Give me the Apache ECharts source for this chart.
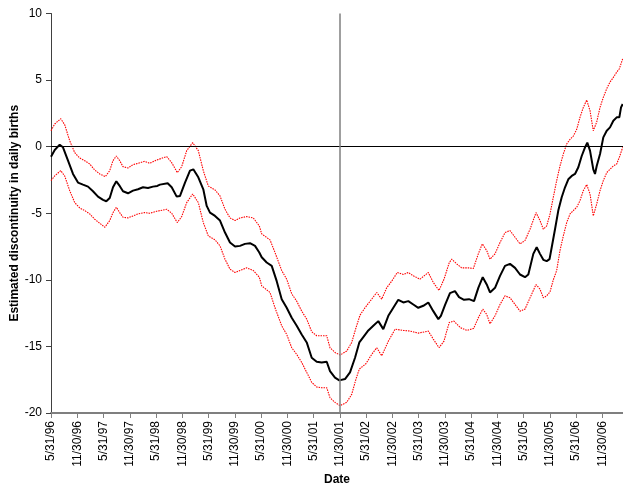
<!DOCTYPE html>
<html>
<head>
<meta charset="utf-8">
<script src="https://cdn.jsdelivr.net/npm/echarts@6/dist/echarts.min.js"></script>
<style>
  html, body { margin: 0; padding: 0; background: #fff; }
  #chart { width: 623px; height: 484px; }
</style>
</head>
<body>
<div id="chart"></div>
<script>
// x = months elapsed since 5/31/96, y = estimated discontinuity
const tickLabels = ['5/31/96','11/30/96','5/31/97','11/30/97','5/31/98','11/30/98','5/31/99','11/30/99',
  '5/31/00','11/30/00','5/31/01','11/30/01','5/31/02','11/30/02','5/31/03','11/30/03','5/31/04','11/30/04',
  '5/31/05','11/30/05','5/31/06','11/30/06'];

const estimate = [
  [0,-0.75],[0.85,-0.25],[1.99,0.15],[2.74,-0.05],[3.89,-1.05],[5.03,-2.05],[6.17,-2.7],[7.31,-2.85],
  [8.46,-3.0],[9.6,-3.35],[10.74,-3.75],[11.89,-4.0],[12.64,-4.1],[13.42,-3.85],[14.17,-3.05],[14.93,-2.6],
  [15.7,-2.95],[16.46,-3.35],[17.6,-3.5],[18.74,-3.3],[19.89,-3.2],[21.03,-3.05],[22.17,-3.1],[23.31,-3.0],
  [24.3,-2.95],[24.91,-2.85],[26.67,-2.75],[27.59,-3.05],[28.73,-3.75],[29.49,-3.7],[30.63,-2.7],[31.77,-1.8],
  [32.53,-1.7],[33.67,-2.3],[34.81,-3.2],[35.59,-4.45],[36.34,-4.95],[37.49,-5.2],[38.63,-5.55],[39.77,-6.45],
  [40.91,-7.2],[42.06,-7.5],[43.2,-7.45],[44.34,-7.3],[45.49,-7.25],[46.63,-7.45],[47.61,-7.95],[48.16,-8.3],
  [49.3,-8.7],[50.45,-8.95],[51.59,-10.1],[52.73,-11.45],[53.87,-12.1],[55.02,-12.85],[56.16,-13.45],[57.3,-14.1],
  [58.45,-14.7],[59.59,-15.85],[60.73,-16.15],[61.87,-16.2],[63.02,-16.15],[63.77,-16.85],[64.91,-17.35],[65.9,-17.55],
  [67.2,-17.45],[68.34,-16.95],[69.49,-15.85],[70.47,-14.7],[71.38,-14.3],[72.53,-13.8],[73.67,-13.45],[74.81,-13.1],
  [75.95,-13.7],[77.1,-12.7],[78.24,-12.1],[79.38,-11.5],[80.53,-11.7],[81.67,-11.6],[82.81,-11.85],[83.95,-12.1],
  [85.1,-11.95],[86.24,-11.7],[87.38,-12.35],[88.53,-12.95],[89.12,-12.7],[90.05,-11.9],[91.19,-11.0],[92.33,-10.85],
  [93.26,-11.3],[94.4,-11.5],[95.54,-11.45],[96.69,-11.6],[97.67,-10.6],[98.68,-9.8],[99.59,-10.35],[100.34,-10.95],
  [101.49,-10.6],[102.63,-9.7],[103.77,-8.95],[104.91,-8.8],[106.06,-9.1],[107.2,-9.6],[108.34,-9.8],[109.1,-9.6],
  [110.24,-8.05],[111.01,-7.55],[111.77,-8.05],[112.53,-8.5],[113.3,-8.6],[113.95,-8.45],[114.45,-7.55],[115.2,-6.2],
  [115.95,-4.8],[116.73,-3.8],[117.49,-3.05],[118.24,-2.45],[119.02,-2.2],[119.77,-2.05],[120.53,-1.55],[121.3,-0.7],
  [122.06,-0.05],[122.58,0.3],[123.2,-0.3],[123.95,-1.7],[124.34,-2.05],[124.73,-1.45],[125.49,-0.55],[126.24,0.7],
  [127.02,1.2],[127.77,1.45],[128.53,1.95],[129.3,2.2],[129.9,2.2],[130.29,2.95],[130.67,3.2]
];

const upperBound = [
  [0,1.2],[0.85,1.7],[2.22,2.1],[3.13,1.65],[4.27,0.45],[5.42,-0.45],[6.56,-0.85],[7.7,-1.05],
  [8.85,-1.3],[9.99,-1.75],[11.13,-2.05],[12.41,-2.25],[13.42,-1.8],[14.17,-1.05],[14.93,-0.7],[15.7,-1.05],
  [16.46,-1.5],[17.6,-1.6],[18.74,-1.35],[19.89,-1.25],[21.42,-1.1],[22.56,-1.25],[24.16,-1.0],[26.45,-0.75],
  [27.59,-1.2],[28.87,-1.95],[29.87,-1.5],[31.02,-0.3],[32.39,0.3],[33.67,-0.3],[34.81,-1.8],[35.95,-2.95],
  [37.49,-3.25],[38.63,-3.7],[39.77,-4.7],[40.91,-5.35],[42.06,-5.55],[43.2,-5.35],[44.73,-5.25],[46.24,-5.35],
  [47.61,-5.95],[48.16,-6.55],[50.06,-7.0],[51.2,-7.95],[52.73,-9.3],[53.87,-9.95],[55.02,-11.05],[56.16,-11.6],
  [57.3,-12.35],[58.45,-12.95],[59.59,-13.9],[60.73,-14.2],[61.87,-14.2],[63.02,-14.2],[63.77,-15.1],[64.91,-15.45],
  [66.06,-15.65],[67.59,-15.35],[68.73,-14.7],[69.71,-13.6],[70.63,-12.65],[71.77,-12.1],[73.3,-11.45],[74.45,-10.95],
  [75.59,-11.45],[76.73,-10.6],[77.87,-10.1],[79.15,-9.45],[80.53,-9.6],[81.67,-9.45],[82.81,-9.7],[84.34,-9.95],
  [86.24,-9.45],[87.38,-10.2],[88.69,-10.8],[89.83,-9.95],[91.04,-8.7],[91.59,-8.45],[92.73,-8.8],[93.87,-9.1],
  [95.38,-9.1],[96.53,-9.15],[97.67,-8.05],[98.58,-7.3],[99.59,-7.8],[100.34,-8.45],[101.49,-8.05],[102.63,-7.2],
  [103.77,-6.45],[104.91,-6.3],[106.06,-6.8],[107.2,-7.3],[108.34,-7.05],[109.49,-6.2],[110.86,-4.95],[111.77,-5.55],
  [112.53,-6.2],[113.3,-5.95],[114.06,-5.05],[114.81,-3.8],[115.58,-2.55],[116.34,-1.45],[117.1,-0.55],[117.87,0.2],
  [118.63,0.55],[119.38,0.8],[120.16,1.3],[120.91,2.2],[121.67,2.95],[122.45,3.5],[123.2,2.7],[123.95,1.2],
  [124.73,1.85],[125.49,2.95],[126.24,3.7],[127.02,4.35],[127.77,4.85],[128.53,5.2],[129.3,5.6],[129.9,5.85],
  [130.67,6.6]
];

const lowerBound = [
  [0,-2.55],[0.85,-2.2],[2.22,-1.8],[3.13,-2.2],[4.27,-3.3],[5.42,-4.2],[6.56,-4.6],[7.7,-4.8],
  [8.85,-5.05],[9.99,-5.45],[11.13,-5.75],[12.3,-6.05],[13.42,-5.55],[14.17,-4.95],[14.93,-4.55],[15.7,-4.95],
  [16.46,-5.3],[17.6,-5.35],[18.74,-5.2],[19.89,-5.05],[21.42,-4.95],[22.56,-5.0],[24.16,-4.85],[26.45,-4.7],
  [27.59,-5.0],[28.87,-5.7],[29.87,-5.25],[31.02,-4.2],[32.39,-3.55],[33.67,-4.2],[34.81,-5.7],[35.95,-6.7],
  [37.49,-7.0],[38.63,-7.45],[39.77,-8.45],[40.91,-9.2],[42.06,-9.45],[43.2,-9.3],[44.73,-9.1],[46.24,-9.3],
  [47.61,-9.8],[48.16,-10.45],[50.06,-10.95],[51.2,-12.1],[52.73,-13.45],[53.87,-14.1],[55.02,-15.1],[56.16,-15.6],
  [57.3,-16.2],[58.45,-16.95],[59.59,-17.7],[60.73,-18.05],[61.87,-18.1],[63.02,-18.1],[63.77,-18.85],[64.91,-19.2],
  [66.06,-19.45],[67.59,-19.2],[68.73,-18.6],[69.71,-17.45],[70.47,-16.7],[71.98,-16.3],[73.3,-15.6],[74.45,-15.1],
  [75.59,-15.7],[77.12,-14.6],[78.65,-13.7],[80.53,-13.8],[82.06,-13.85],[83.95,-14.0],[84.34,-14.1],[86.24,-13.85],
  [87.38,-14.45],[88.69,-15.1],[89.83,-14.6],[90.45,-13.85],[91.04,-13.2],[92.1,-13.1],[93.6,-13.6],[95.1,-13.8],
  [96.6,-13.65],[97.67,-12.85],[98.68,-12.2],[99.59,-12.6],[100.34,-13.3],[101.49,-12.7],[102.63,-11.85],[103.77,-11.2],
  [104.91,-11.35],[106.06,-11.85],[107.2,-12.35],[108.34,-12.2],[109.49,-11.35],[110.86,-10.35],[111.77,-10.7],[112.53,-11.35],
  [113.3,-11.2],[114.06,-10.9],[114.81,-10.0],[115.58,-9.3],[116.34,-7.8],[117.1,-6.7],[117.87,-5.7],[118.63,-5.05],
  [119.38,-4.8],[120.16,-4.55],[120.91,-4.05],[121.67,-3.3],[122.45,-2.85],[123.2,-3.55],[123.95,-5.2],[124.73,-4.3],
  [125.49,-3.3],[126.24,-2.55],[127.02,-1.95],[127.77,-1.7],[128.53,-1.45],[129.3,-1.3],[129.9,-0.8],[130.67,-0.05]
];

// month offset of the 11/30/01 reference date
const cutoffMonth = 66;

const chart = echarts.init(document.getElementById('chart'), null, { renderer: 'canvas' });
const font = 'Liberation Sans, Arial, sans-serif';

chart.setOption({
  animation: false,
  backgroundColor: '#ffffff',
  grid: { left: 51, right: 0, top: 13.5, bottom: 71, containLabel: false, outerBoundsMode: 'none' },
  xAxis: {
    type: 'value',
    min: 0,
    max: 130.74,
    interval: 6,
    name: 'Date',
    nameLocation: 'middle',
    nameGap: 61,
    nameMoveOverlap: false,
    nameTextStyle: { fontFamily: font, fontSize: 12, fontWeight: 'bold', color: '#000' },
    axisLine: { onZero: false, lineStyle: { color: '#7f7f7f', width: 2 } },
    axisTick: { length: 5, lineStyle: { color: '#7f7f7f', width: 1 } },
    axisLabel: {
      rotate: 90,
      margin: 8,
      showMaxLabel: false,
      fontFamily: font,
      fontSize: 12,
      color: '#000',
      formatter: function (v) {
        const i = Math.round(v / 6);
        return (Math.abs(v - i * 6) < 1e-6 && tickLabels[i]) ? tickLabels[i] : '';
      }
    },
    splitLine: { show: false }
  },
  yAxis: {
    type: 'value',
    min: -20,
    max: 10,
    interval: 5,
    name: 'Estimated discontinuity in daily births',
    nameLocation: 'middle',
    nameGap: 30,
    nameMoveOverlap: false,
    nameTextStyle: { fontFamily: font, fontSize: 12, fontWeight: 'bold', color: '#000' },
    axisLine: { show: true, lineStyle: { color: '#404040', width: 1 } },
    axisTick: { show: true, length: 5, lineStyle: { color: '#404040' } },
    axisLabel: { margin: 9, fontFamily: font, fontSize: 12, color: '#000' },
    splitLine: { show: false }
  },
  series: [
    {
      name: 'upper',
      type: 'line',
      data: upperBound,
      showSymbol: false,
      lineStyle: { color: '#ff0000', width: 1.1, type: [1.5, 1] }
    },
    {
      name: 'lower',
      type: 'line',
      data: lowerBound,
      showSymbol: false,
      lineStyle: { color: '#ff0000', width: 1.1, type: [1.5, 1] }
    },
    {
      name: 'estimate',
      type: 'line',
      data: estimate,
      showSymbol: false,
      z: 3,
      lineStyle: { color: '#000000', width: 2 },
      markLine: {
        silent: true,
        symbol: 'none',
        label: { show: false },
        data: [
          { yAxis: 0, lineStyle: { color: '#000', width: 1, type: 'solid' } },
          { xAxis: cutoffMonth, lineStyle: { color: '#7f7f7f', width: 1.5, type: 'solid' } }
        ]
      }
    }
  ]
});
</script>
</body>
</html>
